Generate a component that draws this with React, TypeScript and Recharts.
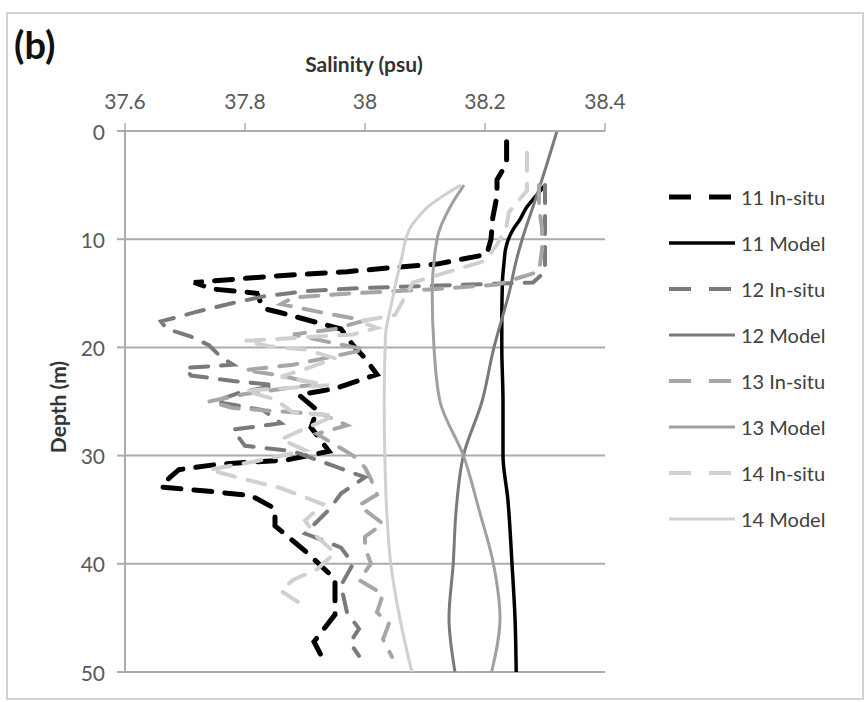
import React from 'react';
import { LineChart, Line, XAxis, YAxis, CartesianGrid } from 'recharts';

// [depth (m), salinity (psu)]
type Pt = [number, number];

const salinityTicks = [37.6, 37.8, 38, 38.2, 38.4];
const depthTicks = [0, 10, 20, 30, 40, 50];

const insitu11: Pt[] = [
  [1, 38.236], [3, 38.236], [4.5, 38.22], [6, 38.22], [8, 38.213], [10, 38.21], [11.4, 38.203],
  [12.3, 38.12], [12.6, 38.05], [13, 37.97], [13.4, 37.85], [14, 37.715], [14.6, 37.745], [15, 37.82],
  [16.4, 37.83], [16.8, 37.86], [17.4, 37.9], [18.3, 37.96], [19.8, 37.98], [21, 38.0], [22.5, 38.02],
  [23.8, 37.95], [24.4, 37.89], [25.8, 37.92], [27.4, 37.91], [29.6, 37.94], [30.4, 37.87], [30.8, 37.755],
  [31.3, 37.69], [32, 37.675], [32.9, 37.66], [33.3, 37.74], [33.7, 37.81], [34.9, 37.85], [36.5, 37.85],
  [38.8, 37.9], [41.4, 37.95], [44.7, 37.95], [47.2, 37.915], [48.8, 37.93],
];

const insitu12: Pt[] = [
  [5, 38.3], [7, 38.3], [9, 38.3], [11, 38.3], [13, 38.3], [14, 38.28], [14.5, 38.0], [14.8, 37.9],
  [15.3, 37.83], [15.9, 37.78], [16.7, 37.72], [17.6, 37.66], [18.3, 37.67], [19, 37.71], [19.8, 37.74],
  [20.9, 37.76], [21.6, 37.78], [21.9, 37.7], [22.6, 37.71], [23.1, 37.78], [23.5, 37.85], [24.2, 37.79],
  [25, 37.75], [25.8, 37.83], [27, 37.86], [27.6, 37.78], [29.1, 37.8], [29.6, 37.88], [31, 37.95],
  [32, 38.0], [33.5, 37.96], [35, 37.94], [37.2, 37.9], [38.5, 37.96], [40, 37.98], [42, 37.96],
  [44.5, 37.97], [46, 37.99], [47.3, 37.975], [48.5, 37.99],
];

const insitu13: Pt[] = [
  [5, 38.29], [7, 38.29], [9, 38.295], [11, 38.295], [13, 38.29], [14.2, 38.22], [14.6, 38.12], [15, 37.98],
  [15.4, 37.88], [16, 37.86], [16.8, 37.93], [17.5, 38.0], [18.3, 37.95], [18.8, 37.88], [19.4, 37.93],
  [20.2, 38.0], [20.8, 37.95], [21.6, 37.88], [22.1, 37.8], [22.6, 37.86], [23.4, 37.92], [24.3, 37.8],
  [25, 37.74], [25.6, 37.78], [26.2, 37.93], [27.2, 37.97], [28, 37.92], [29, 37.95], [30, 37.98],
  [31.1, 38.0], [32.2, 38.01], [33.6, 38.02], [34.6, 37.99], [36.3, 38.03], [37.5, 38.0], [38.5, 38.0],
  [40, 38.01], [41.5, 37.99], [42.8, 38.03], [44.5, 38.02], [45.5, 38.04], [47, 38.03], [48.6, 38.045],
];

const insitu14: Pt[] = [
  [2, 38.27], [4, 38.27], [5.5, 38.27], [7.5, 38.24], [9, 38.235], [10.5, 38.22], [12, 38.2], [13, 38.14],
  [14, 38.08], [15, 38.07], [16, 38.06], [17, 38.05], [17.6, 37.99], [18.2, 38.02], [18.8, 37.98],
  [19.4, 37.8], [19.9, 37.84], [20.2, 37.9], [21, 37.95], [22, 37.9], [22.7, 37.86], [23.5, 37.94],
  [24, 37.8], [24.8, 37.85], [26, 37.88], [26.3, 37.95], [27.5, 37.9], [28.5, 37.86], [29.5, 37.9],
  [30.5, 37.82], [31.3, 37.74], [32.2, 37.8], [33, 37.86], [34.5, 37.93], [36, 37.9], [37.5, 37.92],
  [39, 37.95], [40.5, 37.92], [41.5, 37.88], [42.5, 37.86], [43.6, 37.89],
];

const model11: Pt[] = [
  [5, 38.3], [6, 38.285], [7, 38.27], [8.2, 38.258], [9, 38.248], [10, 38.239], [11, 38.234], [12, 38.232],
  [14, 38.229], [17.5, 38.228], [20, 38.228], [25, 38.23], [30, 38.23], [34, 38.238], [40, 38.245],
  [45, 38.25], [50, 38.252],
];

const model12: Pt[] = [
  [0, 38.32], [5, 38.292], [7, 38.28], [10, 38.262], [12, 38.252], [15, 38.24], [17, 38.23], [20, 38.215],
  [25, 38.195], [30, 38.164], [35, 38.152], [40, 38.147], [45, 38.14], [50, 38.15],
];

const model13: Pt[] = [
  [5, 38.165], [7, 38.142], [10, 38.12], [15, 38.112], [20, 38.115], [25, 38.125], [30, 38.164],
  [35, 38.19], [40, 38.214], [45, 38.225], [50, 38.211],
];

const model14: Pt[] = [
  [5, 38.16], [6, 38.13], [7, 38.105], [8, 38.088], [9, 38.075], [12, 38.06], [16, 38.044], [19, 38.034],
  [25, 38.032], [30, 38.033], [35, 38.036], [40, 38.043], [45, 38.058], [50, 38.078],
];

const toRows = (pts: Pt[]) => pts.map(([depth, sal]) => ({ depth, sal }));

const FONT = 'Lato, "Open Sans", sans-serif';
const DASH = '18 13';

const series = [
  { name: '11 In-situ', pts: insitu11, color: '#000000', width: 5, dash: DASH, curve: 'linear' },
  { name: '11 Model', pts: model11, color: '#000000', width: 3.5, dash: undefined, curve: 'monotone' },
  { name: '12 In-situ', pts: insitu12, color: '#7a7a7a', width: 4, dash: DASH, curve: 'linear' },
  { name: '12 Model', pts: model12, color: '#7a7a7a', width: 3, dash: undefined, curve: 'monotone' },
  { name: '13 In-situ', pts: insitu13, color: '#a6a6a6', width: 4, dash: DASH, curve: 'linear' },
  { name: '13 Model', pts: model13, color: '#a0a0a0', width: 3, dash: undefined, curve: 'monotone' },
  { name: '14 In-situ', pts: insitu14, color: '#d0d0d0', width: 4, dash: DASH, curve: 'linear' },
  { name: '14 Model', pts: model14, color: '#d0d0d0', width: 3, dash: undefined, curve: 'monotone' },
];

const XTick = ({ x, payload }: any) => (
  <text x={x} y={100} textAnchor="middle" dominantBaseline="central" fill="#595959" fontSize={21} fontFamily={FONT}>
    {payload.value}
  </text>
);

const YTick = ({ y, payload }: any) => (
  <text x={105} y={y} textAnchor="end" dominantBaseline="central" fill="#595959" fontSize={21} fontFamily={FONT}>
    {payload.value}
  </text>
);

export default function App() {
  return (
    <div style={{ position: 'relative', width: 866, height: 702, background: '#fff', fontFamily: FONT }}>
      <style>{'body{margin:0}'}</style>
      <div
        style={{
          position: 'absolute', left: 6, top: 12, width: 858, height: 688,
          border: '2px solid #d2d2d2', boxSizing: 'border-box',
        }}
      />
      <div style={{ position: 'absolute', left: 14, top: 24, fontSize: 38, fontWeight: 700, color: '#111', lineHeight: 1.1 }}>
        (b)
      </div>
      <div
        style={{
          position: 'absolute', left: 364, top: 63, transform: 'translate(-50%, -50%)',
          fontSize: 21, fontWeight: 700, color: '#333', whiteSpace: 'nowrap',
        }}
      >
        Salinity (psu)
      </div>
      <div
        style={{
          position: 'absolute', left: 57, top: 407, transform: 'translate(-50%, -50%) rotate(-90deg)',
          fontSize: 21, fontWeight: 700, color: '#333', whiteSpace: 'nowrap',
        }}
      >
        Depth (m)
      </div>

      <div style={{ position: 'absolute', left: 0, top: 0 }}>
        <LineChart width={866} height={702} layout="vertical" margin={{ top: 0, right: 261, bottom: 30, left: 0 }}>
          <CartesianGrid horizontal vertical={false} stroke="#ababab" strokeWidth={2} />
          <XAxis
            type="number"
            orientation="top"
            domain={[37.6, 38.4]}
            ticks={salinityTicks}
            height={131}
            tickSize={8}
            axisLine={{ stroke: '#ababab', strokeWidth: 2 }}
            tickLine={{ stroke: '#ababab', strokeWidth: 1.5 }}
            tick={<XTick />}
            allowDataOverflow
          />
          <YAxis
            type="number"
            dataKey="depth"
            domain={[0, 50]}
            ticks={depthTicks}
            width={125}
            tickSize={8}
            axisLine={{ stroke: '#ababab', strokeWidth: 2 }}
            tickLine={{ stroke: '#ababab', strokeWidth: 2 }}
            tick={<YTick />}
            allowDataOverflow
          />
          {series.map((s) => (
            <Line
              key={s.name}
              name={s.name}
              data={toRows(s.pts)}
              dataKey="sal"
              type={s.curve as any}
              stroke={s.color}
              strokeWidth={s.width}
              strokeDasharray={s.dash}
              strokeLinecap={s.dash ? 'round' : 'butt'}
              dot={false}
              activeDot={false}
              isAnimationActive={false}
            />
          ))}
        </LineChart>
      </div>

      <div style={{ position: 'absolute', left: 668, top: 197 - 12 }}>
        {series.map((s) => (
          <div key={s.name} style={{ display: 'flex', alignItems: 'center', height: 24, marginBottom: 22 }}>
            <svg width={70} height={24}>
              <line
                x1={1}
                x2={67}
                y1={12}
                y2={12}
                stroke={s.color}
                strokeWidth={s.width}
                strokeDasharray={s.dash ? '22 18' : undefined}
              />
            </svg>
            <span style={{ fontSize: 20, color: '#404040', marginLeft: 3, whiteSpace: 'nowrap' }}>{s.name}</span>
          </div>
        ))}
      </div>
    </div>
  );
}
